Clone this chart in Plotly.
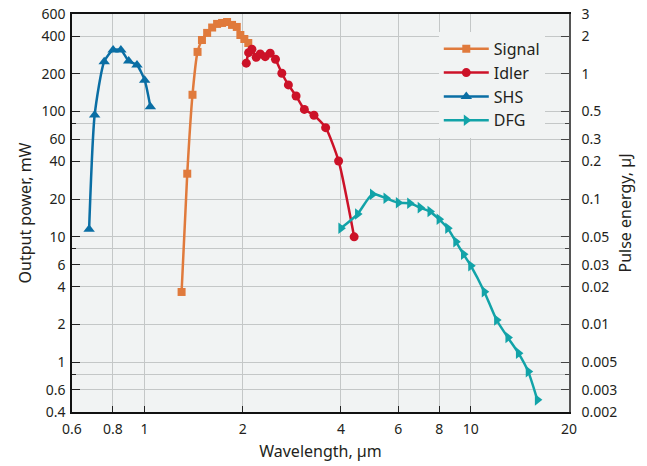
import plotly.graph_objects as go
import math

# ---- data ----
signal_x = [1.300, 1.353, 1.404, 1.455, 1.501, 1.557, 1.613, 1.670, 1.730, 1.792, 1.856, 1.919, 1.968, 2.024, 2.081]
signal_y = [3.63, 31.9, 136, 299, 372, 424, 468, 500, 509, 518, 491, 473, 408, 379, 352]

idler_x = [2.052, 2.086, 2.135, 2.201, 2.264, 2.345, 2.429, 2.521, 2.637, 2.762, 2.916, 3.091, 3.308, 3.592, 3.936, 4.392]
idler_y = [243, 295, 314, 271, 288, 274, 292, 261, 202, 163, 133, 104, 93.3, 74.3, 40.3, 10.0]

shs_x = [0.677, 0.704, 0.753, 0.802, 0.847, 0.895, 0.949, 1.002, 1.043]
shs_y = [11.5, 93.8, 250, 310, 310, 253, 235, 178, 109]

dfg_x = [4.0, 4.5, 5.0, 5.5, 6.0, 6.5, 7.0, 7.5, 8.0, 8.5, 9.0, 9.5, 10.0, 11.0, 12.0, 13.0, 14.0, 15.0, 16.0]
dfg_y = [11.7, 15.2, 21.9, 20.3, 18.7, 18.5, 17.1, 15.9, 13.8, 11.7, 9.15, 7.26, 5.88, 3.65, 2.17, 1.57, 1.18, 0.84, 0.50]

x_ticks = [0.6, 0.8, 1, 2, 4, 6, 8, 10, 20]
x_tick_text = ["0.6", "0.8", "1", "2", "4", "6", "8", "10", "20"]
power_ticks = [0.4, 0.6, 1, 2, 4, 6, 10, 20, 40, 60, 100, 200, 400, 600]
power_tick_text = ["0.4", "0.6", "1", "2", "4", "6", "10", "20", "40", "60", "100", "200", "400", "600"]
power_minor = [0.8, 8, 80]
energy_ticks = [0.002, 0.003, 0.005, 0.01, 0.02, 0.03, 0.05, 0.1, 0.2, 0.3, 0.5, 1, 2, 3]
energy_tick_text = ["0.002", "0.003", "0.005", "0.01", "0.02", "0.03", "0.05", "0.1", "0.2", "0.3", "0.5", "1", "2", "3"]
energy_minor = [0.004, 0.04, 0.4]

x_range = [0.6, 20]
power_range = [0.4, 600]
energy_range = [0.002, 3]

# ---- styles ----
FONT = "Noto Sans"
BG = "#f1f3f3"
GRID = "#c4c7c7"
TXT = "#231f20"
C_SIGNAL = "#e07a3c"
C_IDLER = "#cc1228"
C_SHS = "#0a6ea4"
C_DFG = "#12a3a8"

fig = go.Figure()

def add(x, y, name, color, symbol, size):
    fig.add_trace(go.Scatter(
        x=x, y=y, name=name, mode="lines+markers",
        line=dict(color=color, width=2.5, shape="spline", smoothing=0.6),
        marker=dict(color=color, symbol=symbol, size=size),
    ))

add(signal_x, signal_y, "Signal", C_SIGNAL, "square", 8)
add(idler_x, idler_y, "Idler", C_IDLER, "circle", 9)
add(shs_x, shs_y, "SHS", C_SHS, "triangle-up", 10)
add(dfg_x, dfg_y, "DFG", C_DFG, "triangle-right", 10)

# invisible trace to anchor the right axis
fig.add_trace(go.Scatter(x=[x_range[0]], y=[energy_range[0]], yaxis="y2", mode="markers",
                         marker=dict(opacity=0), showlegend=False, hoverinfo="skip"))

fig.update_layout(
    width=647, height=466,
    margin=dict(l=72, r=78, t=14, b=54),
    paper_bgcolor="white",
    plot_bgcolor=BG,
    font=dict(family=FONT, size=14, color=TXT),
    showlegend=True,
    legend=dict(
        x=0.738, y=0.955, xanchor="left", yanchor="top",
        bgcolor=BG, borderwidth=0,
        font=dict(family=FONT, size=16, color=TXT),
        tracegroupgap=0, itemwidth=45,
    ),
    xaxis=dict(
        type="log", range=[math.log10(x_range[0]), math.log10(x_range[1])],
        tickmode="array", tickvals=x_ticks, ticktext=x_tick_text,
        ticks="inside", ticklen=6, tickcolor="#222", tickwidth=1,
        ticklabelstandoff=3, ticklabeloverflow="allow",
        showgrid=True, gridcolor=GRID, gridwidth=1.3,
        showline=True, linecolor="#111", linewidth=1.5, mirror=True,
        zeroline=False, automargin=False,
        title=dict(text="Wavelength, µm", font=dict(size=16), standoff=9),
        tickfont=dict(size=14),
    ),
    yaxis=dict(
        type="log", range=[math.log10(power_range[0]), math.log10(power_range[1])],
        tickmode="array", tickvals=power_ticks, ticktext=power_tick_text,
        ticks="inside", ticklen=8, tickcolor="#222", tickwidth=1,
        ticklabelstandoff=2, ticklabeloverflow="allow",
        minor=dict(tickvals=power_minor, ticks="inside", ticklen=4, tickcolor="#222",
                   showgrid=True, gridcolor=GRID, gridwidth=1.3),
        showgrid=True, gridcolor=GRID, gridwidth=1.3,
        showline=True, linecolor="#111", linewidth=1.5,
        zeroline=False, automargin=False,
        title=dict(text="Output power, mW", font=dict(size=16), standoff=6),
        tickfont=dict(size=14),
    ),
    yaxis2=dict(
        type="log", overlaying="y", side="right",
        range=[math.log10(energy_range[0]), math.log10(energy_range[1])],
        tickmode="array", tickvals=energy_ticks, ticktext=energy_tick_text,
        ticks="inside", ticklen=8, tickcolor="#444", tickwidth=1,
        ticklabelstandoff=8, ticklabeloverflow="allow",
        minor=dict(tickvals=energy_minor, ticks="inside", ticklen=4, tickcolor="#444", showgrid=False),
        showgrid=False,
        showline=True, linecolor="#555", linewidth=1.5,
        zeroline=False, automargin=False,
        title=dict(text="Pulse energy, µJ", font=dict(size=16), standoff=3),
        tickfont=dict(size=14),
    ),
)

fig.write_html("out.html", config={"displayModeBar": False},
               post_script="document.body.style.margin='0';")
